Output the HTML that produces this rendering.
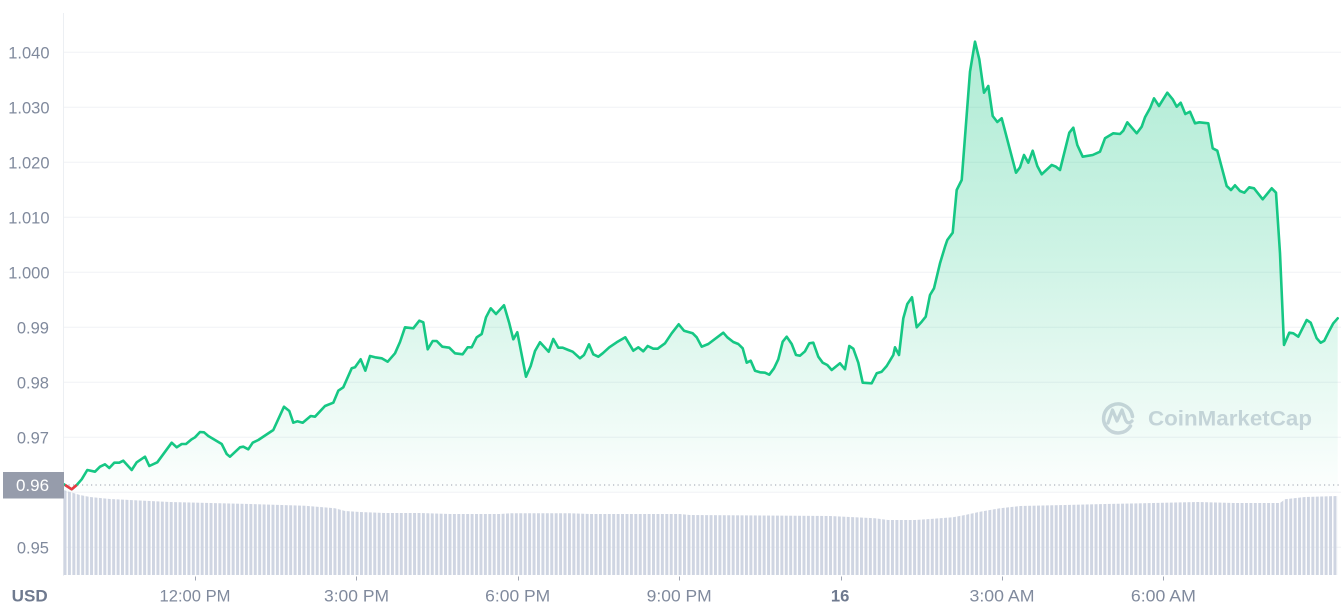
<!DOCTYPE html>
<html>
<head>
<meta charset="utf-8">
<style>
  html,body{margin:0;padding:0;background:#fff;}
  body{width:1341px;height:613px;overflow:hidden;}
  svg{display:block;}
  text{font-family:"Liberation Sans",sans-serif;}
</style>
</head>
<body>
<svg width="1341" height="613" viewBox="0 0 1341 613" xmlns="http://www.w3.org/2000/svg">
  <defs>
    <linearGradient id="areaGrad" gradientUnits="userSpaceOnUse" x1="0" y1="40" x2="0" y2="492">
      <stop offset="0" stop-color="#16c784" stop-opacity="0.34"/>
      <stop offset="0.45" stop-color="#16c784" stop-opacity="0.22"/>
      <stop offset="1" stop-color="#16c784" stop-opacity="0.01"/>
    </linearGradient>
    <pattern id="bars" patternUnits="userSpaceOnUse" x="63.5" y="0" width="4.425" height="613">
      <rect x="0" y="0" width="3" height="613" fill="#cfd5e2"/>
    </pattern>
  </defs>

  <!-- gridlines -->
  <g stroke="#f0f2f5" stroke-width="1">
    <line x1="63" y1="52.3" x2="1341" y2="52.3"/>
    <line x1="63" y1="107.3" x2="1341" y2="107.3"/>
    <line x1="63" y1="162.3" x2="1341" y2="162.3"/>
    <line x1="63" y1="217.3" x2="1341" y2="217.3"/>
    <line x1="63" y1="272.3" x2="1341" y2="272.3"/>
    <line x1="63" y1="327.3" x2="1341" y2="327.3"/>
    <line x1="63" y1="382.3" x2="1341" y2="382.3"/>
    <line x1="63" y1="437.3" x2="1341" y2="437.3"/>
    <line x1="63" y1="492.3" x2="1341" y2="492.3"/>
    <line x1="63" y1="547.3" x2="1341" y2="547.3"/>
  </g>
  <!-- left axis line -->
  <line x1="63.5" y1="13" x2="63.5" y2="576" stroke="#eceff3" stroke-width="1"/>

  <!-- volume bars -->
  <path fill="url(#bars)" d="M63.5,575 L63.5,490 L70,492 L80,495 L90,497 L110,499 L170,502 L250,504 L305,505.7 L335,508.3 L345,511 L360,512 L385,513 L420,513 L450,514 L500,514 L510,513.3 L570,513.3 L590,514 L680,514 L690,515 L830,516 L850,517 L875,518.3 L888,520 L915,520 L930,519 L953,517.3 L965,515 L980,511.7 L1000,508.3 L1020,506 L1065,505 L1105,504 L1153,503 L1198,502 L1234,503 L1280,503 L1285,499.3 L1305,497 L1338,496 L1338,575 Z"/>

  <!-- watermark -->
  <g opacity="0.9">
    <path d="M1130.5,426 A14.5,14.5 0 1 1 1132.5,416.5" fill="none" stroke="#cdd1db" stroke-width="3.5" stroke-linecap="round"/>
    <path d="M1108,423 L1112.5,410 L1117,421 L1122,410 L1125.5,420 Q1128,425 1132,421" fill="none" stroke="#cdd1db" stroke-width="3.3" stroke-linejoin="round" stroke-linecap="round"/>
    <text x="1148" y="425.7" font-size="21.5" font-weight="bold" fill="#cdd1db" textLength="164" lengthAdjust="spacingAndGlyphs">CoinMarketCap</text>
  </g>

  <!-- area -->
  <path fill="url(#areaGrad)" d="M64,484.3 L71.7,489.3 L76.7,485 L81.7,479.3 L87.3,470 L95,471.7 L100,466.7 L105,464.3 L109.3,468 L114.3,462.7 L119.3,462.7 L123.3,460.7 L131.7,470 L136.7,462.3 L145,456.7 L149.3,466 L157.3,462.3 L171.7,442.7 L176.7,447.3 L181.7,444 L186,444 L191.7,439.3 L195,437.3 L200,432 L204,432.3 L208.3,436 L221.7,444 L226.7,454 L230,456.7 L240,447.3 L243.3,446.7 L248.3,449.3 L252.7,442.7 L258.3,440 L273.3,430 L284,406.7 L289.3,411 L293.3,422.7 L297.3,421.3 L302.7,422.7 L310.7,416 L315,416.7 L325,406 L333.3,402.7 L338.3,390.7 L343.3,387.3 L351.7,368.3 L355,367.3 L360.7,359.3 L365.3,370.7 L370,356 L375,357.3 L381.7,358.3 L387.7,361.7 L395,353.3 L400,342 L405,327.3 L413.3,328.3 L419.3,320.7 L423.3,322.3 L427.7,349.3 L432.7,341 L436.7,341 L442.3,346.7 L449.3,347.7 L455,353.3 L462.7,354.3 L467.7,347.3 L471.7,347.3 L476.7,337.3 L481.7,334 L486,317.3 L490.7,308.3 L496,314 L504,305.3 L509.3,323.3 L513.3,339.3 L517.3,332.3 L526,376.7 L530.7,366 L535,351 L540,342.3 L548.7,351.7 L553.3,339 L558.3,347.7 L562.7,347.7 L568.3,350 L572.7,351.7 L580,358.3 L584,355 L589,344.3 L593.3,354.3 L598.3,356.7 L602.7,353.3 L609.3,347.3 L616.7,342.3 L625.3,337.3 L633.3,350.7 L638.3,347.3 L643.3,351.3 L647.7,346 L653.3,348.7 L657.7,348.7 L665,343.3 L671.7,333.3 L678.7,324.3 L684,330.7 L692.7,333.3 L696.7,337.3 L701.7,346.7 L708.3,344 L723.3,332.7 L727.3,337.3 L733.3,342 L738.3,344 L742.7,348.3 L746.7,362.7 L750.7,360.7 L755,370.7 L760,372.3 L765,372.7 L769.3,374.7 L774,368.3 L778.3,359.3 L782.7,341.7 L786.7,336.7 L791.7,344 L796,355 L800,355.7 L805,351.3 L809.3,343.3 L813.3,342.7 L818.3,356.7 L822.7,362.7 L827.3,365 L831.7,370 L840,363.3 L845,369.3 L849.3,346 L853.3,348.7 L858.3,362.7 L862.7,382.7 L871.7,383.3 L876.7,373.3 L881.7,371.7 L886.7,366 L893.3,355 L895,347.3 L899,355 L903.3,318.3 L907.3,304 L912,297.3 L916.7,327.3 L921.7,321.7 L925.7,316.7 L930,295 L934,288.3 L940,263.3 L945,246.7 L947.3,240 L952.7,232.7 L956.7,190 L961.7,180 L970,71.7 L975,41.7 L979.3,59.3 L984,92.7 L988.3,86 L992.7,116 L997.3,122 L1001.7,118.3 L1016,172.7 L1020,167.3 L1024,155 L1028.3,162.7 L1032.7,150.7 L1037.3,166 L1041.7,174.3 L1051.7,165 L1056,166.7 L1060,170 L1069.3,132.7 L1073.3,127.7 L1077.3,145 L1082.7,156.7 L1092.7,155 L1100,151.7 L1105,138.3 L1113.3,133.3 L1120,134 L1123.3,130.7 L1127.3,122.3 L1136.7,133.3 L1141.7,126.7 L1145,117.3 L1150,108.3 L1154,98.3 L1159,106 L1167.3,92.7 L1172.7,99.3 L1176.7,106.7 L1180.7,102.7 L1185.3,114 L1190,111.7 L1195,123.3 L1199.3,122.3 L1208.3,123.3 L1212.7,148.3 L1217.3,150.7 L1226.7,186 L1231,190 L1235,185.3 L1240,191 L1244.3,192.7 L1249.3,187.3 L1254,188.3 L1262.7,199.3 L1271.7,188.3 L1276,192.7 L1280,253.3 L1284,345 L1289.3,332.7 L1293.3,333.3 L1298.3,336.7 L1306.7,320 L1310.7,322.7 L1316.7,338.3 L1320.7,342.7 L1324.3,340.7 L1329.3,330.7 L1333.3,323.3 L1337.7,318.3 L1337.7,492 L64,492 Z"/>

  <!-- dotted reference line -->
  <line x1="64" y1="485" x2="1341" y2="485" stroke="#9aa0ad" stroke-width="1" stroke-dasharray="1.2 3.3"/>

  <!-- price line -->
  <path fill="none" stroke="#16c784" stroke-width="2.6" stroke-linejoin="round" stroke-linecap="round" d="M64,484.3 L71.7,489.3 L76.7,485 L81.7,479.3 L87.3,470 L95,471.7 L100,466.7 L105,464.3 L109.3,468 L114.3,462.7 L119.3,462.7 L123.3,460.7 L131.7,470 L136.7,462.3 L145,456.7 L149.3,466 L157.3,462.3 L171.7,442.7 L176.7,447.3 L181.7,444 L186,444 L191.7,439.3 L195,437.3 L200,432 L204,432.3 L208.3,436 L221.7,444 L226.7,454 L230,456.7 L240,447.3 L243.3,446.7 L248.3,449.3 L252.7,442.7 L258.3,440 L273.3,430 L284,406.7 L289.3,411 L293.3,422.7 L297.3,421.3 L302.7,422.7 L310.7,416 L315,416.7 L325,406 L333.3,402.7 L338.3,390.7 L343.3,387.3 L351.7,368.3 L355,367.3 L360.7,359.3 L365.3,370.7 L370,356 L375,357.3 L381.7,358.3 L387.7,361.7 L395,353.3 L400,342 L405,327.3 L413.3,328.3 L419.3,320.7 L423.3,322.3 L427.7,349.3 L432.7,341 L436.7,341 L442.3,346.7 L449.3,347.7 L455,353.3 L462.7,354.3 L467.7,347.3 L471.7,347.3 L476.7,337.3 L481.7,334 L486,317.3 L490.7,308.3 L496,314 L504,305.3 L509.3,323.3 L513.3,339.3 L517.3,332.3 L526,376.7 L530.7,366 L535,351 L540,342.3 L548.7,351.7 L553.3,339 L558.3,347.7 L562.7,347.7 L568.3,350 L572.7,351.7 L580,358.3 L584,355 L589,344.3 L593.3,354.3 L598.3,356.7 L602.7,353.3 L609.3,347.3 L616.7,342.3 L625.3,337.3 L633.3,350.7 L638.3,347.3 L643.3,351.3 L647.7,346 L653.3,348.7 L657.7,348.7 L665,343.3 L671.7,333.3 L678.7,324.3 L684,330.7 L692.7,333.3 L696.7,337.3 L701.7,346.7 L708.3,344 L723.3,332.7 L727.3,337.3 L733.3,342 L738.3,344 L742.7,348.3 L746.7,362.7 L750.7,360.7 L755,370.7 L760,372.3 L765,372.7 L769.3,374.7 L774,368.3 L778.3,359.3 L782.7,341.7 L786.7,336.7 L791.7,344 L796,355 L800,355.7 L805,351.3 L809.3,343.3 L813.3,342.7 L818.3,356.7 L822.7,362.7 L827.3,365 L831.7,370 L840,363.3 L845,369.3 L849.3,346 L853.3,348.7 L858.3,362.7 L862.7,382.7 L871.7,383.3 L876.7,373.3 L881.7,371.7 L886.7,366 L893.3,355 L895,347.3 L899,355 L903.3,318.3 L907.3,304 L912,297.3 L916.7,327.3 L921.7,321.7 L925.7,316.7 L930,295 L934,288.3 L940,263.3 L945,246.7 L947.3,240 L952.7,232.7 L956.7,190 L961.7,180 L970,71.7 L975,41.7 L979.3,59.3 L984,92.7 L988.3,86 L992.7,116 L997.3,122 L1001.7,118.3 L1016,172.7 L1020,167.3 L1024,155 L1028.3,162.7 L1032.7,150.7 L1037.3,166 L1041.7,174.3 L1051.7,165 L1056,166.7 L1060,170 L1069.3,132.7 L1073.3,127.7 L1077.3,145 L1082.7,156.7 L1092.7,155 L1100,151.7 L1105,138.3 L1113.3,133.3 L1120,134 L1123.3,130.7 L1127.3,122.3 L1136.7,133.3 L1141.7,126.7 L1145,117.3 L1150,108.3 L1154,98.3 L1159,106 L1167.3,92.7 L1172.7,99.3 L1176.7,106.7 L1180.7,102.7 L1185.3,114 L1190,111.7 L1195,123.3 L1199.3,122.3 L1208.3,123.3 L1212.7,148.3 L1217.3,150.7 L1226.7,186 L1231,190 L1235,185.3 L1240,191 L1244.3,192.7 L1249.3,187.3 L1254,188.3 L1262.7,199.3 L1271.7,188.3 L1276,192.7 L1280,253.3 L1284,345 L1289.3,332.7 L1293.3,333.3 L1298.3,336.7 L1306.7,320 L1310.7,322.7 L1316.7,338.3 L1320.7,342.7 L1324.3,340.7 L1329.3,330.7 L1333.3,323.3 L1337.7,318.3"/>
  <!-- red segment below start price -->
  <path fill="none" stroke="#ea3943" stroke-width="2.6" stroke-linejoin="round" d="M65.1,485 L71.7,489.3 L76.7,485"/>

  <!-- y-axis labels -->
  <g font-size="16.5" fill="#808a9d" text-anchor="end">
    <text x="49.5" y="58.3">1.040</text>
    <text x="49.5" y="113.3">1.030</text>
    <text x="49.5" y="168.3">1.020</text>
    <text x="49.5" y="223.3">1.010</text>
    <text x="49.5" y="278.3">1.000</text>
    <text x="49" y="333.3">0.99</text>
    <text x="49" y="388.3">0.98</text>
    <text x="49" y="443.3">0.97</text>
    <text x="49" y="553.3">0.95</text>
  </g>

  <!-- current price badge -->
  <rect x="3" y="472" width="61" height="26.5" fill="#969cab"/>
  <text x="32.5" y="491" font-size="17" fill="#ffffff" text-anchor="middle">0.96</text>

  <!-- x ticks -->
  <g stroke="#a0a6b3" stroke-width="1">
    <line x1="195.5" y1="576.5" x2="195.5" y2="580.5"/>
    <line x1="356.5" y1="576.5" x2="356.5" y2="580.5"/>
    <line x1="518.5" y1="576.5" x2="518.5" y2="580.5"/>
    <line x1="679.5" y1="576.5" x2="679.5" y2="580.5"/>
    <line x1="841.5" y1="576.5" x2="841.5" y2="580.5"/>
    <line x1="1002.5" y1="576.5" x2="1002.5" y2="580.5"/>
    <line x1="1163.5" y1="576.5" x2="1163.5" y2="580.5"/>
  </g>

  <!-- x labels -->
  <g font-size="16.5" fill="#808a9d" text-anchor="middle">
    <text x="195" y="601.7" textLength="71" lengthAdjust="spacingAndGlyphs">12:00 PM</text>
    <text x="356.5" y="601.7" textLength="65" lengthAdjust="spacingAndGlyphs">3:00 PM</text>
    <text x="517.7" y="601.7" textLength="65" lengthAdjust="spacingAndGlyphs">6:00 PM</text>
    <text x="679.2" y="601.7" textLength="65" lengthAdjust="spacingAndGlyphs">9:00 PM</text>
    <text x="840.2" y="601.7" font-weight="bold" fill="#6f7a8f" textLength="18.5" lengthAdjust="spacingAndGlyphs">16</text>
    <text x="1002" y="601.7" textLength="65" lengthAdjust="spacingAndGlyphs">3:00 AM</text>
    <text x="1163.4" y="601.7" textLength="65" lengthAdjust="spacingAndGlyphs">6:00 AM</text>
  </g>
  <text x="11.7" y="601.7" font-size="16.5" font-weight="bold" fill="#6f7a8f" textLength="36" lengthAdjust="spacingAndGlyphs">USD</text>
</svg>
</body>
</html>
